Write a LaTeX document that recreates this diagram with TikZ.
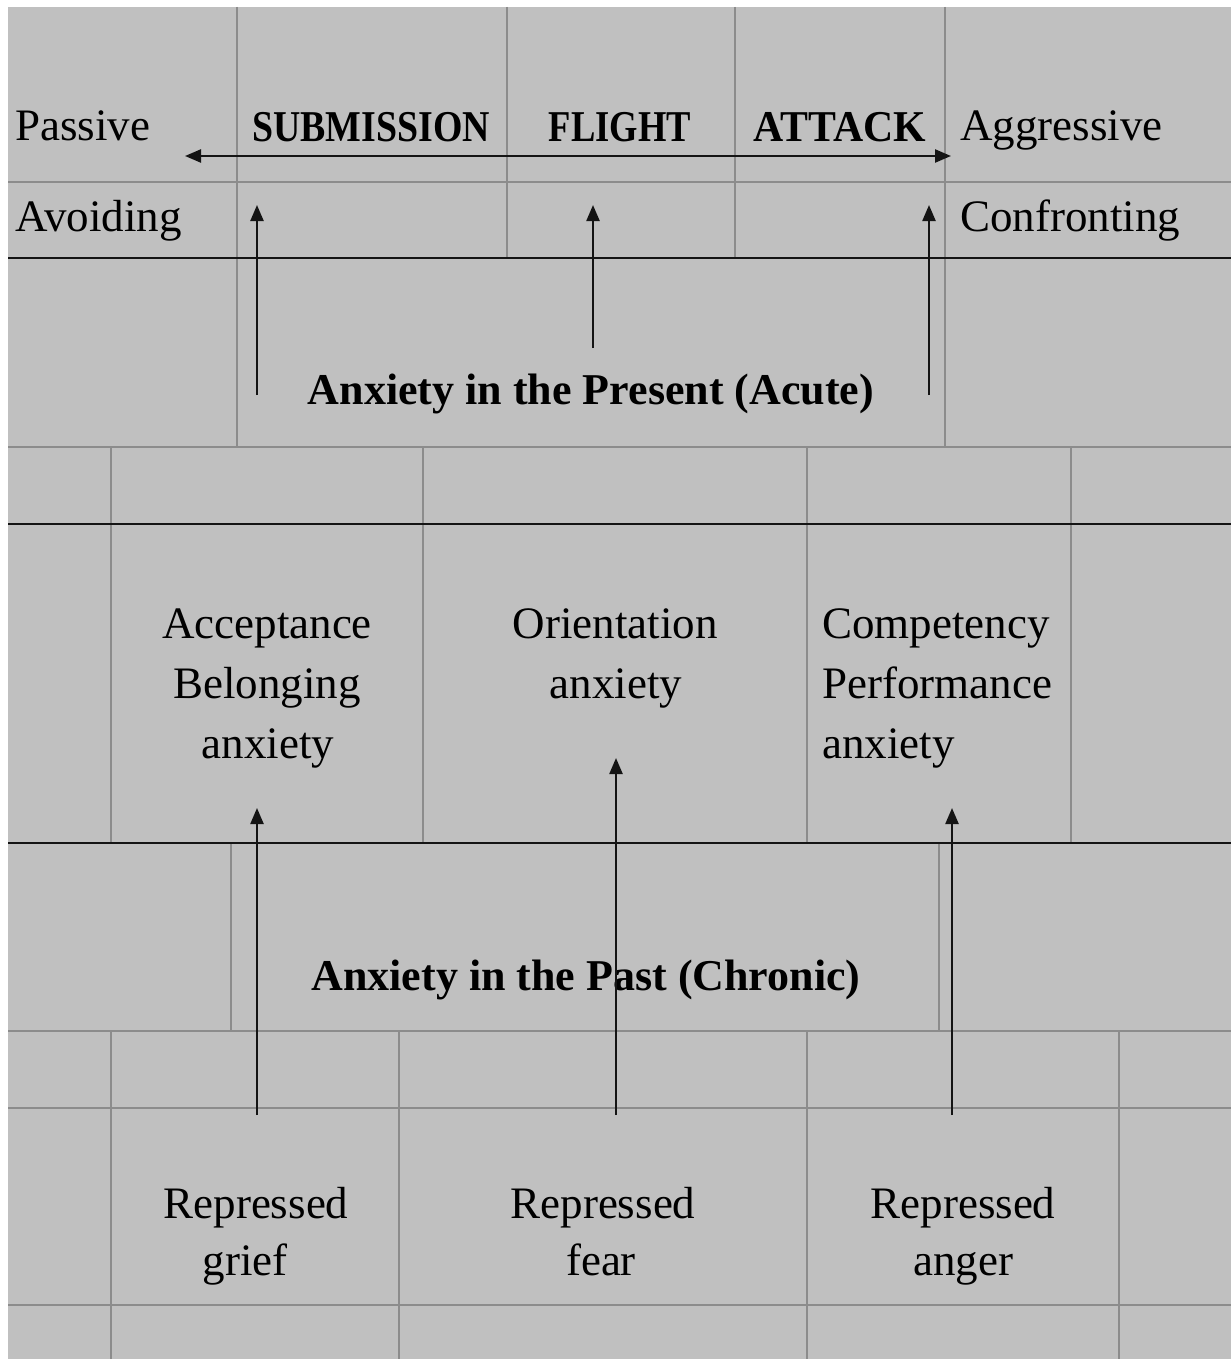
\documentclass[tikz,border=0pt]{standalone}
\usepackage{fontspec}
\setmainfont{Liberation Serif}
\usetikzlibrary{arrows.meta}
\definecolor{bg}{HTML}{C0C0C0}
\definecolor{gridc}{HTML}{8C8C8C}
\definecolor{ink}{HTML}{141414}
\begin{document}
\begin{tikzpicture}[x=1pt,y=-1pt,
  gridline/.style={gridc, line width=2pt},
  heavyline/.style={ink, line width=2.2pt},
  arr/.style={ink, line width=2.3pt, -{Triangle[length=16pt,width=13pt]}},
  dblarr/.style={ink, line width=2.3pt, {Triangle[length=16pt,width=13pt]}-{Triangle[length=16pt,width=13pt]}},
  lbl/.style={inner sep=0pt, font=\fontsize{45}{54}\selectfont},
  toplbl/.style={inner sep=0pt, font=\bfseries\fontsize{44}{52}\selectfont},
  headlbl/.style={inner sep=0pt, font=\bfseries\fontsize{44}{52}\selectfont}
]
\useasboundingbox (0,0) rectangle (1231,1359);
\fill[white] (0,0) rectangle (1231,1359);
\fill[bg] (8,7) rectangle (1231,1359);

% gray grid lines
\foreach \x in {237,507,735,945} \draw[gridline] (\x,7) -- (\x,258);
\foreach \x in {237,945} \draw[gridline] (\x,258) -- (\x,447);
\foreach \x in {111,423,807,1071} \draw[gridline] (\x,447) -- (\x,843);
\foreach \x in {231,939} \draw[gridline] (\x,843) -- (\x,1031);
\foreach \x in {111,399,807,1119} \draw[gridline] (\x,1031) -- (\x,1359);
\foreach \y in {182,447,1031,1108,1305} \draw[gridline] (8,\y) -- (1231,\y);
% heavy lines
\foreach \y in {258,524,843} \draw[heavyline] (8,\y) -- (1231,\y);

% labels top
\node[lbl, anchor=base west] (passive) at (15,141) {Passive};
\node[lbl, anchor=base west] (avoiding) at (15,231) {Avoiding};
\node[lbl, anchor=base west] (aggr) at (960,141) {Aggressive};
\node[lbl, anchor=base west] (confr) at (960,231) {Confronting};
\node[toplbl, anchor=base] (subm) at (371,142) {\scalebox{0.86}[1]{SUBMISSION}};
\node[toplbl, anchor=base] (flight) at (620,142) {\scalebox{0.83}[1]{FLIGHT}};
\node[toplbl, anchor=base] (attack) at (840,142) {\scalebox{0.95}[1]{ATTACK}};
\node[headlbl, anchor=base] (present) at (591,404) {Anxiety in the Present (Acute)};

% middle
\node[lbl, anchor=base] (acc1) at (267,638) {Acceptance};
\node[lbl, anchor=base] (acc2) at (267,698) {Belonging};
\node[lbl, anchor=base] (acc3) at (268,758) {anxiety};
\node[lbl, anchor=base] (ori1) at (615,638) {Orientation};
\node[lbl, anchor=base] (ori2) at (616,698) {anxiety};
\node[lbl, anchor=base west] (comp1) at (822,638) {Competency};
\node[lbl, anchor=base west] (comp2) at (822,698) {Performance};
\node[lbl, anchor=base west] (comp3) at (822,758) {anxiety};

\node[headlbl, anchor=base] (past) at (586,990) {Anxiety in the Past (Chronic)};

% bottom
\node[lbl, anchor=base] (rg1) at (256,1218) {Repressed};
\node[lbl, anchor=base] (rg2) at (245,1275) {grief};
\node[lbl, anchor=base] (rf1) at (603,1218) {Repressed};
\node[lbl, anchor=base] (rf2) at (601,1275) {fear};
\node[lbl, anchor=base] (ra1) at (963,1218) {Repressed};
\node[lbl, anchor=base] (ra2) at (963,1275) {anger};

% arrow end coordinates
\coordinate (hl) at (185,156);
\coordinate (hr) at (951,156);
\coordinate (u1s) at (257,395);
\coordinate (u1e) at (257,205);
\coordinate (u2s) at (593,348);
\coordinate (u2e) at (593,205);
\coordinate (u3s) at (929,395);
\coordinate (u3e) at (929,205);
\coordinate (d1s) at (257,1115);
\coordinate (d1e) at (257,808);
\coordinate (d2s) at (616,1115);
\coordinate (d2e) at (616,758);
\coordinate (d3s) at (952,1115);
\coordinate (d3e) at (952,808);

\draw[dblarr] (hl) -- (hr);
\draw[arr] (u1s) -- (u1e);
\draw[arr] (u2s) -- (u2e);
\draw[arr] (u3s) -- (u3e);
\draw[arr] (d1s) -- (d1e);
\draw[arr] (d2s) -- (d2e);
\draw[arr] (d3s) -- (d3e);
\end{tikzpicture}
\end{document}
